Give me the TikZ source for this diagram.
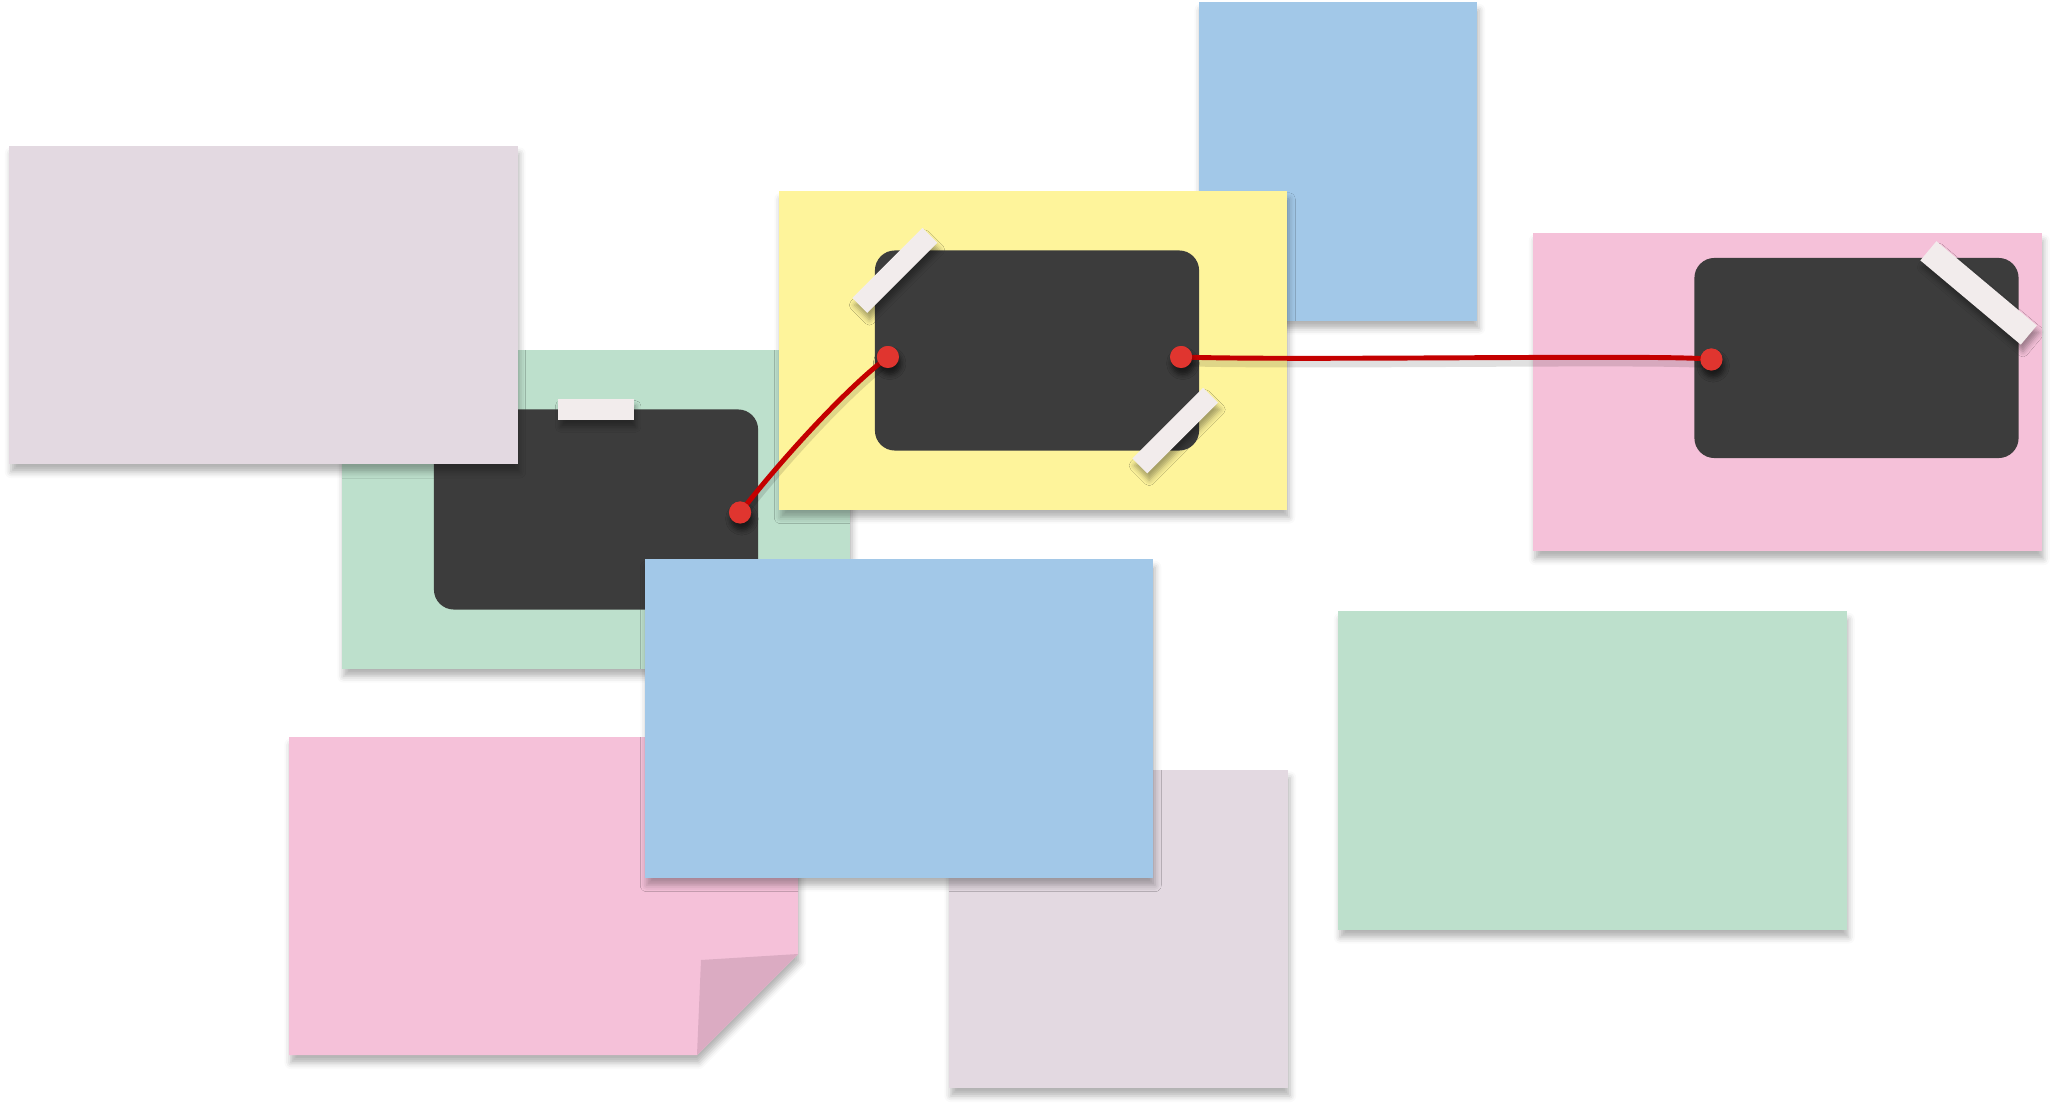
\documentclass[tikz,border=0pt]{standalone}
\usepackage{tikz}
\usetikzlibrary{positioning, calc, shadows.blur}
\definecolor{notemauve}{HTML}{E3D9E1}
\definecolor{notegreen}{HTML}{BDE0CC}
\definecolor{noteyellow}{HTML}{FEF49B}
\definecolor{noteblue}{HTML}{A2C8E8}
\definecolor{notepink}{HTML}{F5C1D9}
\definecolor{notefold}{HTML}{DBABC2}
\definecolor{cardgray}{HTML}{3C3C3C}
\definecolor{tapewhite}{HTML}{F2ECEC}
\definecolor{pinred}{HTML}{E0352F}
\definecolor{wirered}{HTML}{C40000}

\begin{document}
\begin{tikzpicture}[x=0.01cm, y=-0.01cm,
        note/.style={rectangle, inner sep=0pt, outer sep=0pt, minimum width=5.08cm, minimum height=3.18cm,
            blur shadow={shadow xshift=0.5pt, shadow yshift=-2.2pt, shadow blur radius=1.8pt, shadow opacity=30}},
        card/.style={rectangle, rounded corners=0.2cm, fill=cardgray, inner sep=0pt, outer sep=0pt,
            minimum width=3.24cm, minimum height=2cm},
        tape/.style={rectangle, fill=tapewhite, inner sep=0pt, minimum height=0.21cm,
            blur shadow={shadow xshift=0.6pt, shadow yshift=-2pt, shadow blur radius=1.5pt, shadow opacity=35}},
        pin/.style={circle, fill=pinred, inner sep=0pt, minimum size=0.22cm,
            blur shadow={shadow xshift=0.5pt, shadow yshift=-1.8pt, shadow blur radius=1.5pt, shadow opacity=35}},
        wire/.style={draw=wirered, line width=1.4pt,
            preaction={draw=black, opacity=.12, line width=2.4pt, transform canvas={yshift=-1.4pt}}}
    ]
        \useasboundingbox (0,0) rectangle (2050,1103);

        \node[note, fill=noteblue, minimum width=2.78cm] (blueT) at (1338,161.5) {};
        \node[note, fill=notegreen] (greenL) at (596,509.5) {};
        \node[card] (cardG) at (greenL) {};
        \node[tape, minimum width=0.75cm] (tapeG) at (cardG.north) {};
        \node[note, fill=notemauve] (mauveT) at (263.5,305) {};

        \node[note, fill=noteyellow] (yellow) at (1033,350.5) {};
        \node[card] (cardY) at ($(yellow)+(4,0)$) {};
        \node[tape, minimum width=0.99cm, rotate=45] (tapeY1) at ($(cardY.north west)+(20,20)$) {};
        \node[tape, minimum width=1.00cm, rotate=45] (tapeY2) at ($(cardY.south east)+(-24,-20)$) {};

        \node[note, fill=notepink] (pinkR) at (1787.5,392) {};
        \node[card] (cardP) at ($(pinkR)+(69,-34)$) {};
        \node[tape, minimum width=1.31cm, minimum height=0.25cm, rotate=-40] (tapeP) at ($(cardP.north east)+(-40,35)$) {};

        \fill[notepink, blur shadow={shadow xshift=0.5pt, shadow yshift=-2.2pt, shadow blur radius=1.8pt, shadow opacity=30}]
            (289,737) -- (798,737) -- (798,954) -- (697,1055) -- (289,1055) -- cycle;
        \fill[notefold] (701,960) -- (798,954) -- (697,1055) -- cycle;
        \node[note, fill=notemauve, minimum width=3.39cm] (mauveB) at (1118.5,929) {};
        \node[note, fill=noteblue] (blueC) at (899,718.5) {};
        \node[note, fill=notegreen] (greenR) at (1592.5,770.5) {};

        \node[pin] (pinG) at ($(cardG.east)+(-18,3)$) {};
        \node[pin] (pinYL) at ($(cardY.west)+(13,6.5)$) {};
        \node[pin] (pinYR) at ($(cardY.east)+(-18,6.5)$) {};
        \node[pin] (pinP) at ($(cardP.west)+(17,1.5)$) {};

        \draw[wire]
            (pinG.center) .. controls (785,455) and (850,385) .. (pinYL.center)
            (pinYR.center) .. controls (1300,361) and (1680,354) .. (pinP.center)
            ;
        \node[pin] at (pinG) {};
        \node[pin] at (pinYL) {};
        \node[pin] at (pinYR) {};
        \node[pin] at (pinP) {};
\end{tikzpicture}
\end{document}
